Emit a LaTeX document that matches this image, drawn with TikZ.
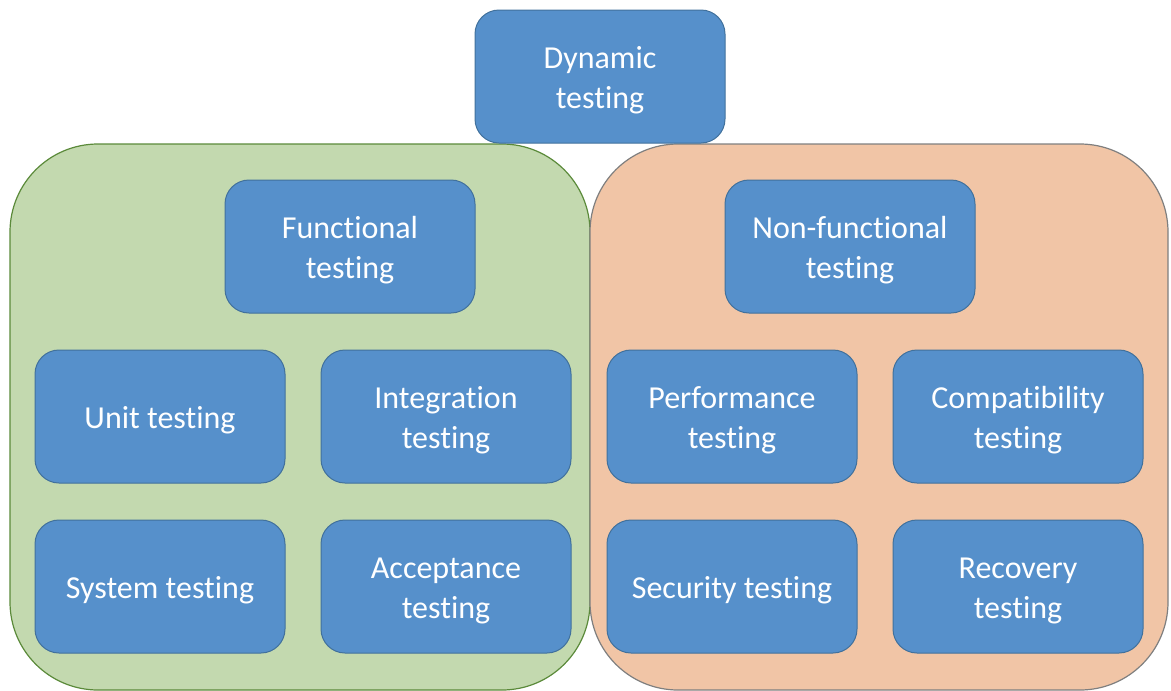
\documentclass[tikz,border=0pt]{standalone}
\usepackage{fontspec}
\setmainfont[Ligatures={NoCommon,NoRequired,NoContextual},RawFeature={-liga;-clig;-calt}]{Carlito}
\definecolor{boxblue}{HTML}{5690CB}
\definecolor{boxedge}{HTML}{41719C}
\definecolor{grpgreen}{HTML}{C3D9AF}
\definecolor{grpgreenedge}{HTML}{5B8A3A}
\definecolor{grporange}{HTML}{F1C5A6}
\definecolor{grporangeedge}{HTML}{7F7F7F}
% label set a little below the box centre, keeping the box size
\newcommand\boxlabel[1]{\raisebox{-4pt}[\height][\depth]{\begin{tabular}{@{}c@{}}#1\end{tabular}}}
\tikzset{
  group/.style={line width=1.2pt, rounded corners=88pt},
  item/.style={draw=boxedge, fill=boxblue, line width=1pt, rounded corners=24pt,
    minimum width=250pt, minimum height=133pt, inner sep=0pt,
    text=white, font=\fontsize{32pt}{40pt}\selectfont}
}
\begin{document}
\begin{tikzpicture}[x=1pt,y=-1pt]
\useasboundingbox (0,0) rectangle (1171,691);
% category groups
\draw[group, draw=grpgreenedge, fill=grpgreen] (10,144) rectangle (590,690);
\draw[group, draw=grporangeedge, fill=grporange] (590,144) rectangle (1168,690);
% top level
\node[item] (dyn) at (600,76.5) {\boxlabel{Dynamic\\testing}};
% functional
\node[item] (func) at (350,246.5) {\boxlabel{Functional\\testing}};
\node[item] (unit) at (160,416.5) {\boxlabel{Unit testing}};
\node[item] (integ) at (446,416.5) {\boxlabel{Integration\\testing}};
\node[item] (sys) at (160,586.5) {\boxlabel{System testing}};
\node[item] (accept) at (446,586.5) {\boxlabel{Acceptance\\testing}};
% non-functional
\node[item] (nonfunc) at (850,246.5) {\boxlabel{Non-functional\\testing}};
\node[item] (perf) at (732,416.5) {\boxlabel{Performance\\testing}};
\node[item] (compat) at (1018,416.5) {\boxlabel{Compatibility\\testing}};
\node[item] (sec) at (732,586.5) {\boxlabel{Security testing}};
\node[item] (recov) at (1018,586.5) {\boxlabel{Recovery\\testing}};
\end{tikzpicture}
\end{document}
